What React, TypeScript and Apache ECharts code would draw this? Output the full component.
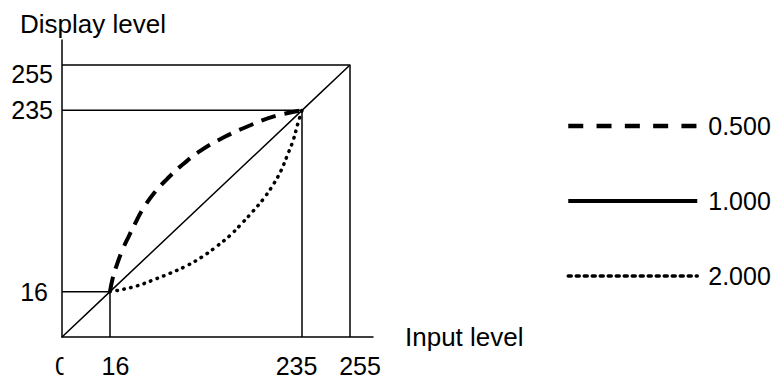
import React, { useEffect, useRef } from "react";
import * as echarts from "echarts";

// Schematic axes: level stops and where they sit on the (non-linear) drawing axis
const levelStops = [0, 16, 235, 255];
const axisStops = [0, 1, 5, 6];

const xTickLevels = [0, 16, 235, 255];
const xTickLabels = ["0", "16", "235", "255"];
const yTickLevels = [16, 235, 255];
const yTickLabels = ["16", "235", "255"];

const guideLevels = [16, 235, 255];

const seriesNames = ["0.500", "1.000", "2.000"];

// gamma 1.000 (straight line)
const linearX = [0, 16, 235, 255];
const linearY = [0, 16, 235, 255];

// gamma 0.500 (dashed)
const gammaHalfX = [16, 19, 24, 30, 37, 45, 53, 67, 81, 96, 119, 147, 176, 204, 235];
const gammaHalfY = [16, 32, 49, 66, 82, 99, 115, 136, 152, 167, 186, 203, 217, 228, 235];

// gamma 2.000 (dotted)
const gammaTwoX = [16, 27, 47, 65, 84, 103, 121, 138, 153, 166, 179, 191, 202, 211, 218, 225, 230, 235];
const gammaTwoY = [16, 18, 23, 30, 38, 47, 58, 71, 84, 98, 113, 128, 145, 162, 180, 199, 218, 235];

const FONT = "'Liberation Sans', Arial, Helvetica, sans-serif";

function toAxis(level: number): number {
  for (let i = 0; i < levelStops.length - 1; i++) {
    const a = levelStops[i];
    const b = levelStops[i + 1];
    if (level <= b || i === levelStops.length - 2) {
      const t = (level - a) / (b - a);
      return axisStops[i] + t * (axisStops[i + 1] - axisStops[i]);
    }
  }
  return 0;
}

function pts(xs: number[], ys: number[]) {
  return xs.map((x, i) => [toAxis(x), toAxis(ys[i])]);
}

function findIdx(vals: number[], v: number) {
  for (let i = 0; i < vals.length; i++) {
    if (Math.abs(toAxis(vals[i]) - v) < 1e-6) return i;
  }
  return -1;
}

export default function App() {
  const ref = useRef<HTMLDivElement>(null);

  useEffect(() => {
    if (!ref.current) return;
    const chart = echarts.init(ref.current, undefined, { renderer: "svg" });

    const guideSeries = guideLevels.map((L) => ({
      type: "line",
      data: pts([0, L, L], [L, L, 0]),
      symbol: "none",
      silent: true,
      z: 1,
      lineStyle: { color: "#000", width: 1.5 },
    }));

    const xRich: any = {
      p0: { fontSize: 25, fontFamily: FONT, color: "#000" },
      p1: { fontSize: 25, fontFamily: FONT, color: "#000", padding: [0, 0, 0, 11] },
      p2: { fontSize: 25, fontFamily: FONT, color: "#000", padding: [0, 11, 0, 0] },
      p3: { fontSize: 25, fontFamily: FONT, color: "#000", padding: [0, 0, 0, 20] },
    };
    const yRich: any = {
      q0: { fontSize: 25, fontFamily: FONT, color: "#000", padding: [0, 5, 0, 0] },
      q1: { fontSize: 25, fontFamily: FONT, color: "#000" },
      q2: { fontSize: 25, fontFamily: FONT, color: "#000", padding: [18, 0, 0, 0] },
    };

    const hiddenSymbol = { opacity: 0, color: "rgba(0,0,0,0)", borderWidth: 0 };

    const option: any = {
      animation: false,
      backgroundColor: "#fff",
      grid: { left: 62, top: 40, right: 406, bottom: 44, containLabel: false },
      xAxis: {
        type: "value",
        min: 0,
        max: 311 / 48,
        name: "Input level",
        nameLocation: "end",
        nameGap: 32,
        nameTextStyle: {
          fontSize: 26,
          fontFamily: FONT,
          color: "#000",
          align: "left",
          verticalAlign: "middle",
        },
        axisLine: { show: true, onZero: false, lineStyle: { color: "#000", width: 1.5 } },
        axisTick: { show: false },
        splitLine: { show: false },
        axisLabel: {
          customValues: xTickLevels.map(toAxis),
          margin: 16,
          fontSize: 25,
          fontFamily: FONT,
          color: "#000",
          showMinLabel: true,
          showMaxLabel: true,
          formatter: (v: number) => {
            const i = findIdx(xTickLevels, v);
            return i < 0 ? "" : `{p${i}|${xTickLabels[i]}}`;
          },
          rich: xRich,
        },
      },
      yAxis: {
        type: "value",
        min: 0,
        max: 297 / (272 / 6),
        name: "Display level",
        nameLocation: "end",
        nameGap: 3,
        nameTextStyle: {
          fontSize: 26,
          fontFamily: FONT,
          color: "#000",
          align: "center",
          padding: [0, 0, 0, 62],
        },
        axisLine: { show: true, onZero: false, lineStyle: { color: "#000", width: 1.5 } },
        axisTick: { show: false },
        splitLine: { show: false },
        axisLabel: {
          customValues: yTickLevels.map(toAxis),
          margin: 9,
          fontSize: 25,
          fontFamily: FONT,
          color: "#000",
          formatter: (v: number) => {
            const i = findIdx(yTickLevels, v);
            return i < 0 ? "" : `{q${i}|${yTickLabels[i]}}`;
          },
          rich: yRich,
        },
      },
      legend: {
        orient: "vertical",
        left: 561,
        top: 106,
        itemWidth: 129,
        itemHeight: 30,
        itemGap: 45,
        selectedMode: false,
        itemStyle: hiddenSymbol,
        textStyle: {
          fontSize: 25,
          fontFamily: FONT,
          color: "#000",
          lineHeight: 30,
          padding: [0, 0, 0, 6],
        },
        data: [
          { name: seriesNames[0], itemStyle: hiddenSymbol, lineStyle: { width: 4.5, type: [15, 13.3], color: "#000" } },
          { name: seriesNames[1], itemStyle: hiddenSymbol, lineStyle: { width: 4, type: "solid", color: "#000" } },
          { name: seriesNames[2], itemStyle: hiddenSymbol, lineStyle: { width: 3.5, type: [3, 5], color: "#000" } },
        ],
      },
      graphic: [
        {
          type: "rect",
          z: 100,
          shape: { x: 63.5, y: 350, width: 12, height: 31 },
          style: { fill: "#fff" },
          silent: true,
        },
      ],
      series: [
        ...guideSeries,
        {
          name: seriesNames[1],
          type: "line",
          data: pts(linearX, linearY),
          symbol: "none",
          z: 2,
          lineStyle: { color: "#000", width: 1.5, type: "solid" },
          itemStyle: { color: "#000" },
        },
        {
          name: seriesNames[0],
          type: "line",
          data: pts(gammaHalfX, gammaHalfY),
          symbol: "none",
          smooth: 0.4,
          z: 3,
          lineStyle: { color: "#000", width: 4, type: [15, 9] },
          itemStyle: { color: "#000" },
        },
        {
          name: seriesNames[2],
          type: "line",
          data: pts(gammaTwoX, gammaTwoY),
          symbol: "none",
          smooth: 0.4,
          z: 3,
          lineStyle: { color: "#000", width: 3.5, type: [0.5, 6.5], cap: "round" },
          itemStyle: { color: "#000" },
        },
      ],
    };

    chart.setOption(option);
    return () => chart.dispose();
  }, []);

  return (
    <div
      ref={ref}
      style={{ position: "fixed", left: 0, top: 0, width: 779, height: 381, background: "#fff" }}
    />
  );
}
